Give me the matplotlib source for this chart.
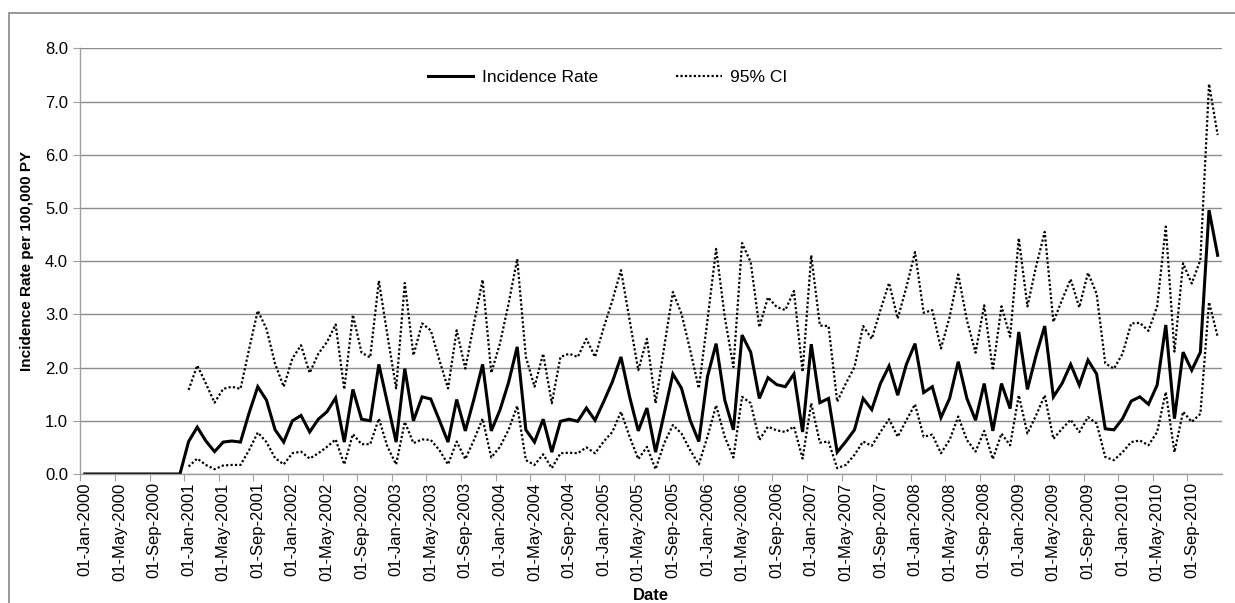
import numpy as np
import matplotlib
matplotlib.use("Agg")
from matplotlib import pyplot as plt
from matplotlib.patches import Rectangle

plt.rcParams['font.family'] = ['Liberation Sans', 'DejaVu Sans']

# monthly incidence per 100,000 PY, Jan 2000 - Dec 2010
rate = [0.0] * 12 + [
    0.61, 0.88, 0.62, 0.42, 0.60, 0.62, 0.60, 1.15, 1.64, 1.39, 0.83, 0.60,
    1.00, 1.10, 0.79, 1.03, 1.17, 1.43, 0.60, 1.59, 1.03, 1.00, 2.06, 1.33,
    0.60, 1.98, 1.00, 1.45, 1.41, 1.01, 0.60, 1.40, 0.81, 1.41, 2.06, 0.81,
    1.20, 1.72, 2.39, 0.83, 0.60, 1.03, 0.41, 0.99, 1.03, 0.99, 1.24, 1.01,
    1.36, 1.73, 2.20, 1.45, 0.81, 1.24, 0.41, 1.14, 1.88, 1.61, 1.01, 0.61,
    1.83, 2.45, 1.39, 0.83, 2.61, 2.29, 1.42, 1.81, 1.68, 1.64, 1.88, 0.79,
    2.44, 1.34, 1.42, 0.41, 0.61, 0.83, 1.42, 1.21, 1.70, 2.03, 1.48, 2.06,
    2.45, 1.53, 1.64, 1.06, 1.42, 2.11, 1.42, 1.01, 1.70, 0.81, 1.70, 1.23,
    2.67, 1.59, 2.23, 2.78, 1.45, 1.70, 2.06, 1.67, 2.14, 1.88, 0.85, 0.83,
    1.04, 1.37, 1.45, 1.31, 1.67, 2.80, 1.04, 2.29, 1.95, 2.29, 4.96, 4.11,
]
ci_upper = [np.nan] * 12 + [
    1.58, 2.04, 1.70, 1.34, 1.60, 1.64, 1.60, 2.35, 3.07, 2.73, 2.07, 1.64,
    2.17, 2.42, 1.90, 2.26, 2.48, 2.81, 1.59, 2.99, 2.28, 2.19, 3.63, 2.60,
    1.61, 3.59, 2.23, 2.83, 2.70, 2.14, 1.61, 2.70, 1.98, 2.83, 3.65, 1.90,
    2.45, 3.20, 4.04, 2.20, 1.64, 2.26, 1.33, 2.20, 2.26, 2.20, 2.54, 2.20,
    2.75, 3.26, 3.83, 2.89, 1.95, 2.54, 1.33, 2.39, 3.42, 3.01, 2.33, 1.61,
    2.89, 4.23, 2.95, 2.01, 4.34, 3.98, 2.76, 3.32, 3.14, 3.08, 3.44, 1.92,
    4.11, 2.79, 2.78, 1.36, 1.70, 2.01, 2.78, 2.54, 3.08, 3.59, 2.92, 3.51,
    4.17, 3.03, 3.08, 2.36, 2.95, 3.75, 2.89, 2.28, 3.17, 1.95, 3.15, 2.58,
    4.43, 3.15, 3.90, 4.55, 2.86, 3.27, 3.66, 3.13, 3.78, 3.39, 2.08, 1.98,
    2.26, 2.83, 2.84, 2.69, 3.15, 4.65, 2.30, 3.96, 3.58, 4.02, 7.33, 6.37,
]
ci_lower = [np.nan] * 12 + [
    0.14, 0.29, 0.17, 0.09, 0.16, 0.17, 0.17, 0.45, 0.78, 0.60, 0.30, 0.18,
    0.39, 0.42, 0.29, 0.39, 0.51, 0.65, 0.18, 0.75, 0.56, 0.56, 1.04, 0.51,
    0.18, 0.98, 0.58, 0.65, 0.64, 0.45, 0.18, 0.61, 0.28, 0.64, 1.04, 0.31,
    0.51, 0.83, 1.28, 0.26, 0.17, 0.37, 0.11, 0.39, 0.40, 0.39, 0.50, 0.39,
    0.61, 0.79, 1.17, 0.70, 0.28, 0.51, 0.09, 0.58, 0.92, 0.76, 0.45, 0.18,
    0.70, 1.29, 0.70, 0.31, 1.45, 1.33, 0.64, 0.89, 0.82, 0.79, 0.89, 0.29,
    1.33, 0.59, 0.61, 0.11, 0.17, 0.36, 0.61, 0.53, 0.79, 1.03, 0.70, 1.01,
    1.31, 0.70, 0.74, 0.39, 0.64, 1.08, 0.64, 0.42, 0.81, 0.28, 0.76, 0.54,
    1.48, 0.76, 1.10, 1.48, 0.66, 0.85, 1.02, 0.79, 1.07, 0.95, 0.32, 0.26,
    0.41, 0.60, 0.63, 0.54, 0.79, 1.54, 0.41, 1.17, 0.98, 1.13, 3.23, 2.58,
]

month_names = ['Jan', 'May', 'Sep']
tick_labels = ['01-%s-%d' % (month_names[(k // 4) % 3], 2000 + k // 12)
               for k in range(0, 132, 4)]

n = len(rate)
x = np.arange(n) + 0.5

fig = plt.figure(figsize=(12.35, 6.03), dpi=100)
# outer chart border
fig.patches.append(Rectangle((9 / 1235, -0.1), 1.2, 1 - 13 / 603 + 0.1,
                             transform=fig.transFigure, fill=False,
                             edgecolor='#868686', linewidth=1.2))

ax = fig.add_axes([80.5 / 1235, 1 - 474 / 603, (1222 - 80.5) / 1235, (474 - 48.3) / 603])

ax.plot(x, rate, color='black', linewidth=2.2, solid_joinstyle='miter',
        label='Incidence Rate')
ax.plot(x, ci_upper, color='black', linewidth=1.6, linestyle=(0, (1, 1)),
        label='95% CI')
ax.plot(x, ci_lower, color='black', linewidth=1.6, linestyle=(0, (1, 1)))

ax.set_xlim(0, n)
ax.set_ylim(0, 8)
ax.set_yticks(np.arange(0, 8.1, 1.0))
ax.set_yticklabels(['%.1f' % v for v in np.arange(0, 8.1, 1.0)], fontsize=12)
ax.yaxis.grid(True, color='#8c8c8c', linewidth=1.0)
ax.set_axisbelow(True)

ax.set_xticks(np.arange(0, n, 4))
ax.set_xticklabels([])
ax.set_xticks(np.arange(0, n, 4) + 0.5, minor=True)
ax.set_xticklabels(tick_labels, minor=True, rotation=90, fontsize=12)
ax.tick_params(axis='x', which='major', length=5, color='#a0a0a0', direction='out')
ax.tick_params(axis='x', which='minor', length=0, pad=6)
ax.tick_params(axis='y', length=5, color='#a0a0a0', pad=4)

for side in ['top', 'right']:
    ax.spines[side].set_visible(False)
for side in ['left', 'bottom']:
    ax.spines[side].set_color('#a0a0a0')
    ax.spines[side].set_linewidth(1.0)

ax.set_ylabel('Incidence Rate per 100,000 PY', fontsize=11, fontweight='bold', labelpad=8)
ax.set_xlabel('Date', fontsize=12, fontweight='bold', labelpad=5)

ax.legend(loc='upper center', bbox_to_anchor=(0.462, 0.985), ncol=2, frameon=False,
          fontsize=12.5, handlelength=2.6, columnspacing=4.5, handletextpad=0.5)

fig.savefig('out.png', dpi=100)
